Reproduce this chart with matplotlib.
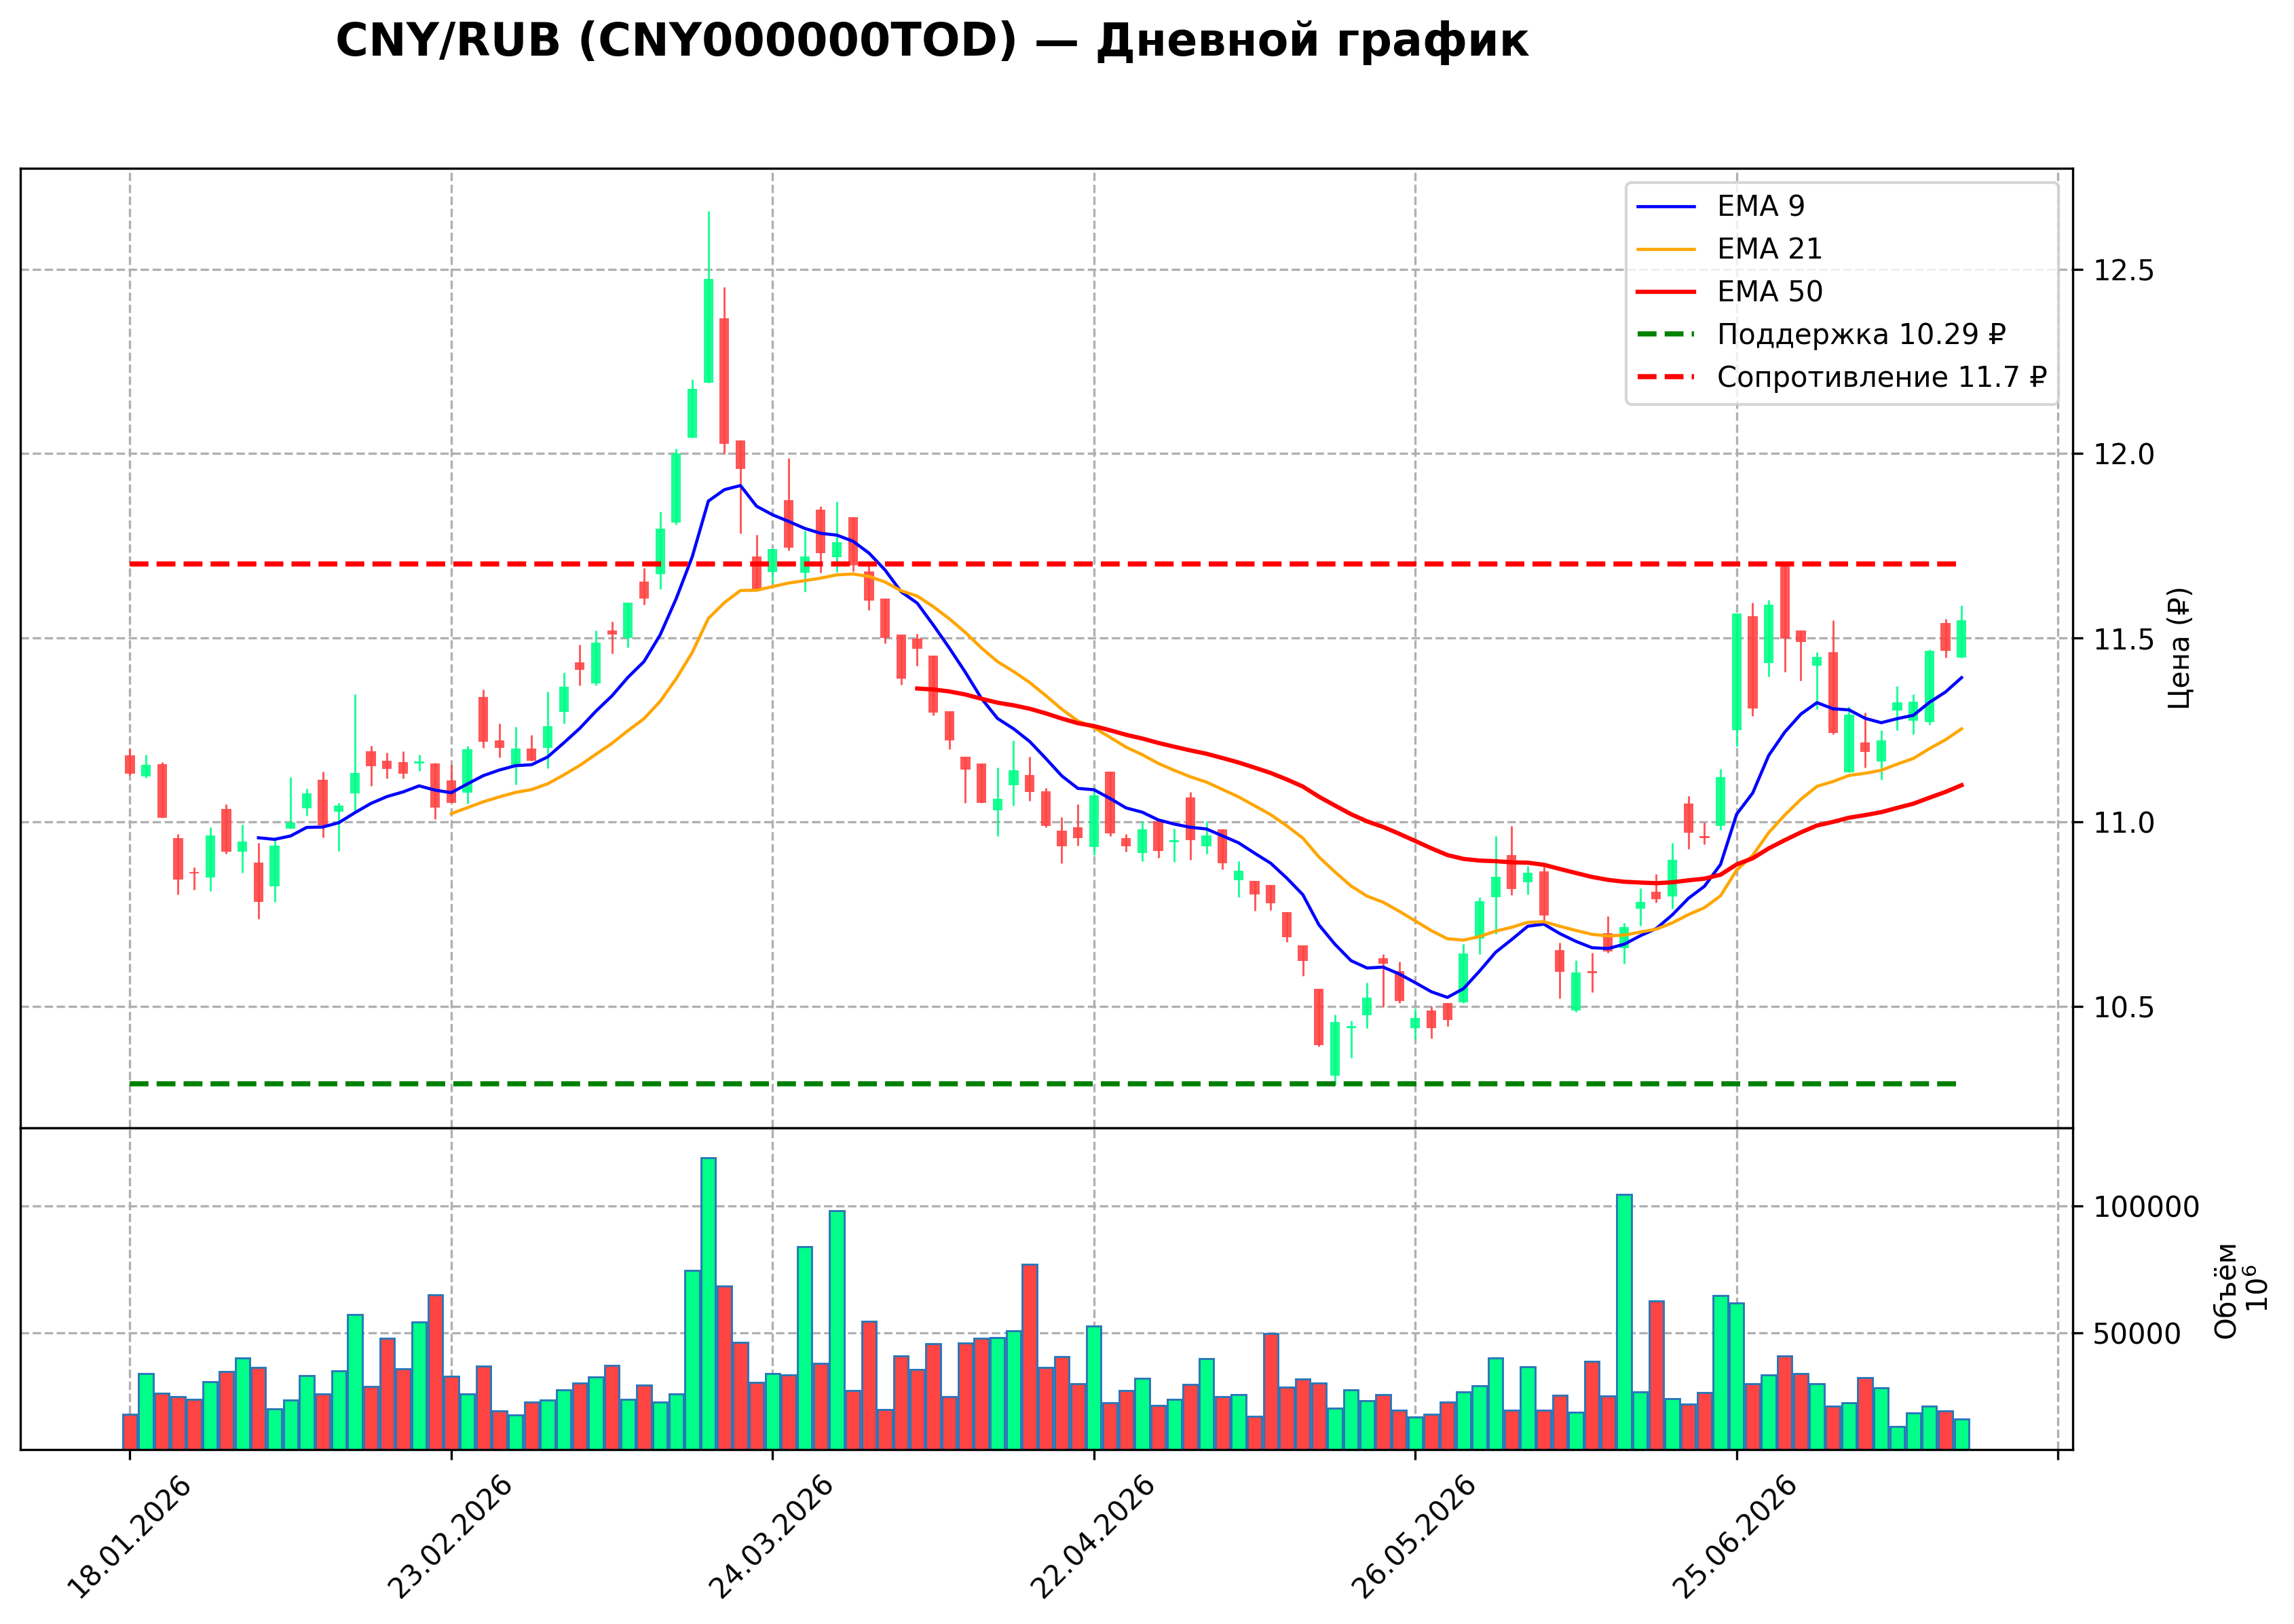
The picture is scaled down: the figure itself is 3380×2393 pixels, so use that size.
import numpy as np
import matplotlib
matplotlib.use("Agg")
import matplotlib.pyplot as plt
from matplotlib.ticker import FixedLocator, FixedFormatter

# ---------------- data ----------------
opens = [11.181, 11.124, 11.158, 10.957, 10.863, 10.849, 11.035, 10.919, 10.890, 10.825,
         10.982, 11.038, 11.115, 11.028, 11.078, 11.192, 11.166, 11.163, 11.159, 11.159,
         11.112, 11.079, 11.340, 11.221, 11.151, 11.200, 11.202, 11.299, 11.434, 11.377,
         11.519, 11.500, 11.653, 11.672, 11.812, 12.042, 12.192, 12.367, 12.035, 11.720,
         11.679, 11.873, 11.676, 11.848, 11.718, 11.827, 11.681, 11.606, 11.509, 11.497,
         11.451, 11.301, 11.178, 11.159, 11.032, 11.100, 11.127, 11.083, 10.977, 10.986,
         10.933, 11.137, 10.956, 10.916, 11.003, 10.946, 11.067, 10.934, 10.980, 10.842,
         10.841, 10.829, 10.756, 10.665, 10.548, 10.311, 10.440, 10.476, 10.631, 10.595,
         10.440, 10.488, 10.508, 10.510, 10.684, 10.796, 10.911, 10.836, 10.866, 10.652,
         10.488, 10.596, 10.699, 10.658, 10.764, 10.810, 10.798, 11.050, 10.962, 10.989,
         11.250, 11.558, 11.432, 11.701, 11.519, 11.425, 11.461, 11.135, 11.216, 11.164,
         11.302, 11.275, 11.272, 11.541, 11.447]
highs = [11.200, 11.183, 11.163, 10.968, 10.878, 10.986, 11.049, 10.994, 10.943, 10.953,
         11.122, 11.091, 11.137, 11.052, 11.347, 11.207, 11.188, 11.193, 11.183, 11.160,
         11.155, 11.207, 11.360, 11.268, 11.258, 11.236, 11.355, 11.405, 11.481, 11.519,
         11.543, 11.595, 11.689, 11.842, 12.013, 12.202, 12.658, 12.451, 12.035, 11.779,
         11.740, 11.987, 11.791, 11.856, 11.870, 11.827, 11.694, 11.606, 11.509, 11.510,
         11.451, 11.301, 11.178, 11.159, 11.147, 11.221, 11.178, 11.093, 11.014, 11.049,
         11.094, 11.137, 10.968, 11.003, 11.003, 10.982, 11.081, 11.003, 10.980, 10.894,
         10.841, 10.829, 10.756, 10.665, 10.548, 10.478, 10.461, 10.565, 10.641, 10.621,
         10.495, 10.500, 10.508, 10.669, 10.796, 10.962, 10.989, 10.880, 10.880, 10.672,
         10.625, 10.645, 10.744, 10.727, 10.820, 10.858, 10.943, 11.071, 10.999, 11.144,
         11.566, 11.595, 11.602, 11.701, 11.519, 11.461, 11.548, 11.314, 11.297, 11.250,
         11.369, 11.347, 11.469, 11.551, 11.588]
lows = [11.127, 11.120, 11.011, 10.803, 10.817, 10.812, 10.914, 10.863, 10.737, 10.783,
        10.982, 11.018, 10.958, 10.922, 11.030, 11.098, 11.118, 11.118, 11.139, 11.008,
        11.052, 11.050, 11.201, 11.175, 11.101, 11.166, 11.146, 11.268, 11.370, 11.370,
        11.457, 11.474, 11.590, 11.633, 11.807, 12.042, 12.192, 11.999, 11.783, 11.633,
        11.647, 11.737, 11.624, 11.676, 11.679, 11.681, 11.575, 11.485, 11.372, 11.425,
        11.289, 11.198, 11.052, 11.052, 10.962, 11.045, 11.057, 10.986, 10.889, 10.936,
        10.911, 10.962, 10.919, 10.894, 10.903, 10.892, 10.897, 10.914, 10.872, 10.796,
        10.760, 10.761, 10.674, 10.583, 10.391, 10.287, 10.359, 10.440, 10.500, 10.509,
        10.411, 10.413, 10.446, 10.508, 10.641, 10.696, 10.802, 10.803, 10.733, 10.522,
        10.485, 10.539, 10.645, 10.616, 10.718, 10.781, 10.765, 10.926, 10.940, 10.979,
        11.205, 11.287, 11.394, 11.408, 11.384, 11.306, 11.238, 11.135, 11.147, 11.114,
        11.250, 11.239, 11.263, 11.446, 11.447]
closes = [11.132, 11.156, 11.011, 10.844, 10.860, 10.963, 10.919, 10.948, 10.783, 10.936,
          10.999, 11.078, 10.991, 11.045, 11.134, 11.151, 11.144, 11.132, 11.164, 11.040,
          11.052, 11.198, 11.217, 11.202, 11.200, 11.166, 11.261, 11.367, 11.413, 11.486,
          11.509, 11.595, 11.607, 11.796, 12.001, 12.175, 12.474, 12.026, 11.958, 11.633,
          11.740, 11.744, 11.721, 11.730, 11.759, 11.696, 11.601, 11.500, 11.389, 11.471,
          11.297, 11.222, 11.142, 11.052, 11.064, 11.141, 11.081, 10.989, 10.935, 10.956,
          11.073, 10.970, 10.935, 10.981, 10.922, 10.949, 10.951, 10.963, 10.888, 10.868,
          10.803, 10.779, 10.687, 10.623, 10.394, 10.457, 10.446, 10.524, 10.616, 10.514,
          10.469, 10.441, 10.463, 10.643, 10.786, 10.851, 10.819, 10.862, 10.746, 10.594,
          10.592, 10.590, 10.648, 10.715, 10.783, 10.790, 10.897, 10.972, 10.957, 11.122,
          11.566, 11.309, 11.590, 11.497, 11.488, 11.448, 11.241, 11.292, 11.190, 11.222,
          11.325, 11.326, 11.465, 11.465, 11.548]
volumes = [17900, 34000, 26200, 24900, 23800, 30800, 34800, 40200, 36400, 20000,
           23600, 33200, 25900, 35000, 57300, 28900, 47900, 35800, 54400, 65000,
           32900, 25900, 37000, 19300, 17600, 22700, 23500, 27500, 30300, 32700,
           37200, 23800, 29500, 22700, 25900, 74500, 118800, 68500, 46200, 30400,
           34000, 33500, 84000, 37900, 98200, 27200, 54600, 19800, 40900, 35500,
           45700, 24800, 46000, 47900, 48200, 50800, 77100, 36300, 40600, 29900,
           52700, 22400, 27300, 32100, 21400, 23800, 29700, 39800, 24800, 25600,
           17300, 49800, 28600, 31900, 30200, 20300, 27500, 23200, 25600, 19600,
           16900, 18100, 22700, 26800, 29100, 40100, 19500, 36600, 19600, 25400,
           18700, 38800, 25100, 104600, 26700, 62600, 24000, 21900, 26400, 64700,
           61800, 29900, 33400, 40900, 33900, 29900, 21100, 22400, 32300, 28300,
           13300, 18400, 21300, 19300, 16000]
tick_dates = ["18.01.2026", "23.02.2026", "24.03.2026", "22.04.2026",
              "26.05.2026", "25.06.2026", ""]
support = 10.29
resistance = 11.7
title = "CNY/RUB (CNY000000TOD) — Дневной график"

# ---------------- helpers ----------------
def ema(vals, n):
    vals = np.asarray(vals, dtype=float)
    out = np.full(len(vals), np.nan)
    out[n - 1] = vals[:n].mean()
    a = 2.0 / (n + 1)
    for i in range(n, len(vals)):
        out[i] = a * vals[i] + (1 - a) * out[i - 1]
    return out

o = np.array(opens); h = np.array(highs); l = np.array(lows); c = np.array(closes)
v = np.array(volumes)
x = np.arange(len(c))
up = c >= o
GREEN = "#00ff88"
RED = "#ff4444"
cols = np.where(up, GREEN, RED)

ema9 = ema(c, 9)
ema21 = ema(c, 21)
ema50 = ema(c, 50)

# ---------------- figure ----------------
W, H = 3380, 2393
DPI = 300
fig = plt.figure(figsize=(W / DPI, H / DPI), dpi=DPI)
plt.rcParams['font.size'] = 10

left = 30 / W
width = (3054 - 30) / W
ax = fig.add_axes([left, 1 - 1662 / H, width, (1662 - 248) / H])
axv = fig.add_axes([left, 1 - 2136 / H, width, (2136 - 1662) / H], sharex=ax)

# candles
ax.vlines(x, l, h, colors=cols, linewidth=0.7, alpha=0.9, zorder=2)
body_bot = np.minimum(o, c)
body_h = np.maximum(np.abs(c - o), 0.004)
ax.bar(x, body_h, bottom=body_bot, width=0.6, color=cols, alpha=0.9,
       linewidth=0, zorder=3)

ax.plot(x, ema9, color="blue", linewidth=1.1, label="EMA 9", zorder=4)
ax.plot(x, ema21, color="orange", linewidth=1.1, label="EMA 21", zorder=4)
ax.plot(x, ema50, color="red", linewidth=1.5, label="EMA 50", zorder=4)
ax.hlines(support, x[0], x[-1], colors="green", linestyles="--", linewidth=1.8,
          label=f"Поддержка {support} ₽", zorder=4)
ax.hlines(resistance, x[0], x[-1], colors="red", linestyles="--", linewidth=1.8,
          label=f"Сопротивление {resistance} ₽", zorder=4)

ax.set_xlim(-6.82, 120.92)
ax.set_ylim(10.17, 12.774)
ax.yaxis.tick_right()
ax.yaxis.set_label_position("right")
ax.set_ylabel("Цена (₽)")
ax.grid(True, linestyle="--", color="#b0b0b0", linewidth=0.8)
ax.tick_params(axis="x", labelbottom=False)
ax.legend(loc="upper right", fontsize=10)

# volume
axv.bar(x, v, width=0.9, color=cols, edgecolor="#2a77b8", linewidth=0.7, zorder=2)
axv.set_ylim(4100, 130650)
axv.yaxis.tick_right()
axv.yaxis.set_label_position("right")
axv.set_ylabel("Объём\n$10^6$")
axv.grid(True, linestyle="--", color="#b0b0b0", linewidth=0.8)
axv.set_yticks([50000, 100000])
axv.set_yticklabels(["50000", "100000"])

tick_pos = list(range(0, 20 * len(tick_dates), 20))
axv.xaxis.set_major_locator(FixedLocator(tick_pos))
axv.xaxis.set_major_formatter(FixedFormatter(tick_dates))
plt.setp(axv.get_xticklabels(), rotation=45, ha="center")

fig.text(1374 / W, 1 - 82 / H, title, ha="center", va="baseline",
         fontsize=16, fontweight="bold")

fig.savefig("out.png", dpi=DPI)
